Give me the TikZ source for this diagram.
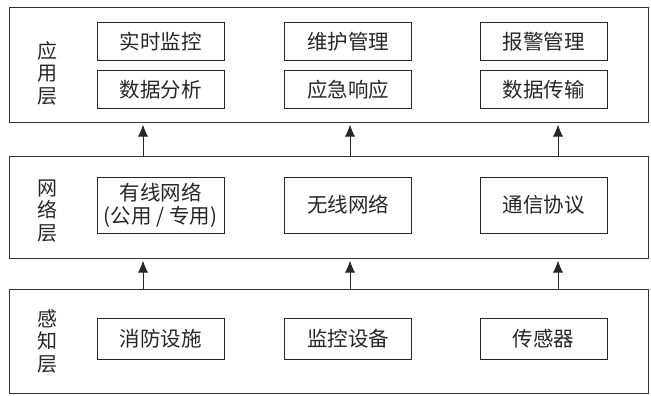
\documentclass[tikz,border=0pt]{standalone}
\usepackage{fontspec}
\newfontfamily\cjk{Noto Sans CJK SC}
\usetikzlibrary{arrows.meta, positioning}

\begin{document}
\begin{tikzpicture}[x=1pt, y=-1pt]

  % styles
  \tikzstyle{layer} = [rectangle, minimum width=639pt, draw=black!80, line width=1pt, inner sep=0pt]
  \tikzstyle{unit} = [rectangle, minimum width=127pt, text centered, align=center, draw=black!85, line width=1pt, text=black!85, font=\cjk\fontsize{20.5}{23}\selectfont]
  \tikzstyle{tag} = [align=center, text=black!85, font=\cjk\fontsize{20}{22.5}\selectfont]
  \tikzstyle{arrow} = [line width=1pt, draw=black!85, shorten >=2pt, -{Latex[length=12pt, width=10pt]}]

  \useasboundingbox (0,0) rectangle (651,396);

  % layers
  \node (app) [layer, minimum height=114pt] at (328.5,65) {};
  \node (net) [layer, minimum height=102pt] at (328.5,207) {};
  \node (per) [layer, minimum height=104pt] at (328.5,341) {};

  % layer labels
  \node (appL) [tag] at (47,73) {应\\用\\层};
  \node (netL) [tag] at (47,211) {网\\络\\层};
  \node (perL) [tag] at (47,341) {感\\知\\层};

  % application layer
  \node (mon) [unit, minimum height=38pt] at (160.5,42) {实时监控};
  \node (mnt) [unit, minimum height=38pt] at (348,42) {维护管理};
  \node (alm) [unit, minimum height=38pt] at (543.5,42) {报警管理};
  \node (ana) [unit, minimum height=37pt] at (160.5,89.5) {数据分析};
  \node (emg) [unit, minimum height=37pt] at (348,89.5) {应急响应};
  \node (trn) [unit, minimum height=37pt] at (543.5,89.5) {数据传输};

  % network layer
  \node (wire) [unit, minimum height=56pt] at (160.5,205) {有线网络\\(公用 / 专用)};
  \node (wifi) [unit, minimum height=56pt] at (348,205) {无线网络};
  \node (prot) [unit, minimum height=56pt] at (543.5,205) {通信协议};

  % perception layer
  \node (fire) [unit, minimum height=41pt] at (160.5,338.5) {消防设施};
  \node (cam) [unit, minimum height=41pt] at (348,338.5) {监控设备};
  \node (sens) [unit, minimum height=41pt] at (543.5,338.5) {传感器};

  % arrows
  \coordinate (c1) at (143,0);
  \coordinate (c2) at (350,0);
  \coordinate (c3) at (558,0);

  \draw [arrow] (net.north -| c1) -- (app.south -| c1);
  \draw [arrow] (net.north -| c2) -- (app.south -| c2);
  \draw [arrow] (net.north -| c3) -- (app.south -| c3);

  \draw [arrow] (per.north -| c1) -- (net.south -| c1);
  \draw [arrow] (per.north -| c2) -- (net.south -| c2);
  \draw [arrow] (per.north -| c3) -- (net.south -| c3);

\end{tikzpicture}
\end{document}
